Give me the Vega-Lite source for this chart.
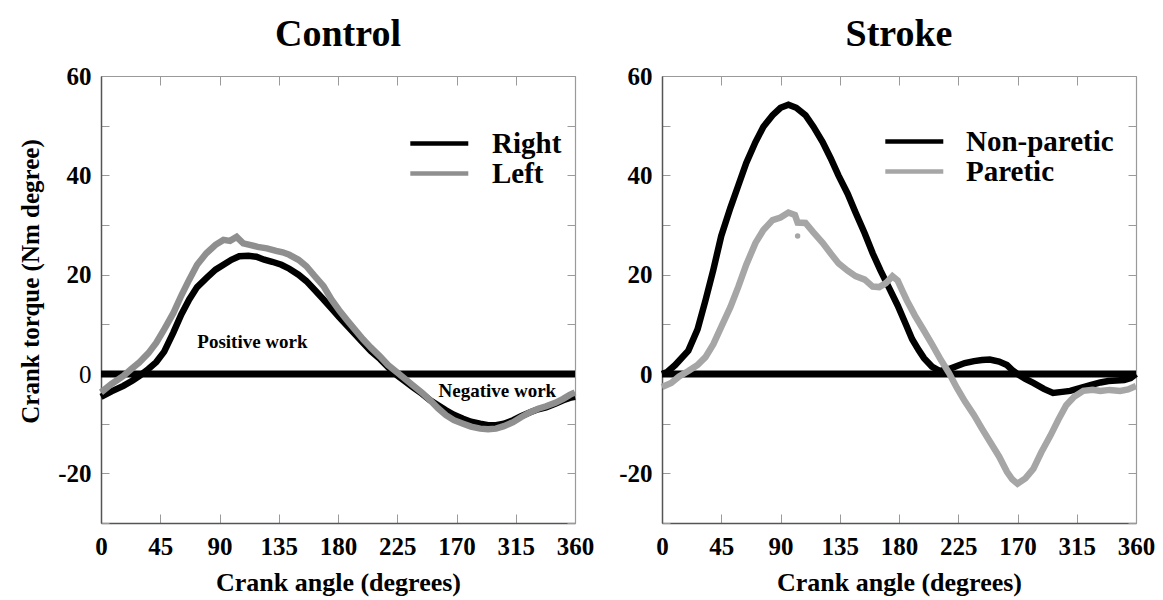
{
  "$schema": "https://vega.github.io/schema/vega-lite/v6.json",
  "background": "white",
  "padding": {"left": 18, "top": 16, "right": 10, "bottom": 5},
  "spacing": 24,
  "config": {
    "font": "Liberation Serif",
    "view": {"stroke": null},
    "axis": {"grid": false, "labelFont": "Liberation Serif", "titleFont": "Liberation Serif", "labelColor": "black", "titleColor": "black"},
    "title": {"font": "Liberation Serif", "fontSize": 38, "fontWeight": "bold", "color": "black", "offset": 10, "anchor": "middle"}
  },
  "resolve": {"scale": {"color": "independent"}, "legend": {"color": "independent"}},
  "datasets": {
    "curves": [
      {"panel":"Control","series":"Right","angle":0,"torque":-4.6},
      {"panel":"Control","series":"Right","angle":8,"torque":-3.5},
      {"panel":"Control","series":"Right","angle":17,"torque":-2.4},
      {"panel":"Control","series":"Right","angle":24,"torque":-1.3},
      {"panel":"Control","series":"Right","angle":29,"torque":-0.4},
      {"panel":"Control","series":"Right","angle":36,"torque":1.0},
      {"panel":"Control","series":"Right","angle":42,"torque":2.4},
      {"panel":"Control","series":"Right","angle":48,"torque":4.5},
      {"panel":"Control","series":"Right","angle":55,"torque":8.4},
      {"panel":"Control","series":"Right","angle":61,"torque":12},
      {"panel":"Control","series":"Right","angle":67,"torque":15},
      {"panel":"Control","series":"Right","angle":73,"torque":17.5},
      {"panel":"Control","series":"Right","angle":80,"torque":19.3},
      {"panel":"Control","series":"Right","angle":87,"torque":21},
      {"panel":"Control","series":"Right","angle":93,"torque":22},
      {"panel":"Control","series":"Right","angle":99,"torque":23},
      {"panel":"Control","series":"Right","angle":105,"torque":23.7},
      {"panel":"Control","series":"Right","angle":112,"torque":23.8},
      {"panel":"Control","series":"Right","angle":118,"torque":23.6},
      {"panel":"Control","series":"Right","angle":124,"torque":23},
      {"panel":"Control","series":"Right","angle":130,"torque":22.6},
      {"panel":"Control","series":"Right","angle":137,"torque":22},
      {"panel":"Control","series":"Right","angle":143,"torque":21.2},
      {"panel":"Control","series":"Right","angle":150,"torque":20},
      {"panel":"Control","series":"Right","angle":156,"torque":18.7},
      {"panel":"Control","series":"Right","angle":162,"torque":17},
      {"panel":"Control","series":"Right","angle":169,"torque":15},
      {"panel":"Control","series":"Right","angle":175,"torque":13.2},
      {"panel":"Control","series":"Right","angle":181,"torque":11.4},
      {"panel":"Control","series":"Right","angle":187,"torque":9.7},
      {"panel":"Control","series":"Right","angle":193,"torque":8},
      {"panel":"Control","series":"Right","angle":199,"torque":6.3},
      {"panel":"Control","series":"Right","angle":205,"torque":4.6},
      {"panel":"Control","series":"Right","angle":212,"torque":3},
      {"panel":"Control","series":"Right","angle":218,"torque":1.4},
      {"panel":"Control","series":"Right","angle":225,"torque":-0.3},
      {"panel":"Control","series":"Right","angle":231,"torque":-1.5},
      {"panel":"Control","series":"Right","angle":237,"torque":-2.7},
      {"panel":"Control","series":"Right","angle":244,"torque":-4},
      {"panel":"Control","series":"Right","angle":250,"torque":-5.3},
      {"panel":"Control","series":"Right","angle":256,"torque":-6.3},
      {"panel":"Control","series":"Right","angle":262,"torque":-7.3},
      {"panel":"Control","series":"Right","angle":268,"torque":-8.2},
      {"panel":"Control","series":"Right","angle":275,"torque":-9},
      {"panel":"Control","series":"Right","angle":281,"torque":-9.6},
      {"panel":"Control","series":"Right","angle":288,"torque":-10},
      {"panel":"Control","series":"Right","angle":294,"torque":-10.3},
      {"panel":"Control","series":"Right","angle":300,"torque":-10.3},
      {"panel":"Control","series":"Right","angle":306,"torque":-10},
      {"panel":"Control","series":"Right","angle":313,"torque":-9.3},
      {"panel":"Control","series":"Right","angle":319,"torque":-8.5},
      {"panel":"Control","series":"Right","angle":326,"torque":-7.7},
      {"panel":"Control","series":"Right","angle":332,"torque":-7.1},
      {"panel":"Control","series":"Right","angle":338,"torque":-6.7},
      {"panel":"Control","series":"Right","angle":345,"torque":-6},
      {"panel":"Control","series":"Right","angle":351,"torque":-5.3},
      {"panel":"Control","series":"Right","angle":356,"torque":-4.8},
      {"panel":"Control","series":"Right","angle":360,"torque":-4.6},
      {"panel":"Control","series":"Left","angle":0,"torque":-3.7},
      {"panel":"Control","series":"Left","angle":8,"torque":-2.0},
      {"panel":"Control","series":"Left","angle":17,"torque":-0.4},
      {"panel":"Control","series":"Left","angle":23,"torque":1.0},
      {"panel":"Control","series":"Left","angle":29,"torque":2.3},
      {"panel":"Control","series":"Left","angle":36,"torque":4.2},
      {"panel":"Control","series":"Left","angle":42,"torque":6.3},
      {"panel":"Control","series":"Left","angle":48,"torque":9},
      {"panel":"Control","series":"Left","angle":55,"torque":12.3},
      {"panel":"Control","series":"Left","angle":61,"torque":15.8},
      {"panel":"Control","series":"Left","angle":67,"torque":19},
      {"panel":"Control","series":"Left","angle":73,"torque":22},
      {"panel":"Control","series":"Left","angle":80,"torque":24.3},
      {"panel":"Control","series":"Left","angle":87,"torque":26},
      {"panel":"Control","series":"Left","angle":93,"torque":27},
      {"panel":"Control","series":"Left","angle":98,"torque":26.8},
      {"panel":"Control","series":"Left","angle":103,"torque":27.6},
      {"panel":"Control","series":"Left","angle":108,"torque":26.3},
      {"panel":"Control","series":"Left","angle":113,"torque":26},
      {"panel":"Control","series":"Left","angle":119,"torque":25.6},
      {"panel":"Control","series":"Left","angle":126,"torque":25.3},
      {"panel":"Control","series":"Left","angle":133,"torque":24.8},
      {"panel":"Control","series":"Left","angle":138,"torque":24.5},
      {"panel":"Control","series":"Left","angle":143,"torque":24},
      {"panel":"Control","series":"Left","angle":150,"torque":23},
      {"panel":"Control","series":"Left","angle":156,"torque":21.7},
      {"panel":"Control","series":"Left","angle":162,"torque":19.8},
      {"panel":"Control","series":"Left","angle":169,"torque":17.7},
      {"panel":"Control","series":"Left","angle":175,"torque":15},
      {"panel":"Control","series":"Left","angle":181,"torque":12.8},
      {"panel":"Control","series":"Left","angle":187,"torque":10.8},
      {"panel":"Control","series":"Left","angle":193,"torque":8.9},
      {"panel":"Control","series":"Left","angle":199,"torque":7},
      {"panel":"Control","series":"Left","angle":205,"torque":5.3},
      {"panel":"Control","series":"Left","angle":212,"torque":3.5},
      {"panel":"Control","series":"Left","angle":218,"torque":1.8},
      {"panel":"Control","series":"Left","angle":225,"torque":0.3},
      {"panel":"Control","series":"Left","angle":231,"torque":-1.0},
      {"panel":"Control","series":"Left","angle":237,"torque":-2.3},
      {"panel":"Control","series":"Left","angle":244,"torque":-3.8},
      {"panel":"Control","series":"Left","angle":250,"torque":-5.3},
      {"panel":"Control","series":"Left","angle":256,"torque":-6.9},
      {"panel":"Control","series":"Left","angle":262,"torque":-8.3},
      {"panel":"Control","series":"Left","angle":268,"torque":-9.3},
      {"panel":"Control","series":"Left","angle":275,"torque":-10},
      {"panel":"Control","series":"Left","angle":281,"torque":-10.6},
      {"panel":"Control","series":"Left","angle":288,"torque":-11},
      {"panel":"Control","series":"Left","angle":294,"torque":-11.1},
      {"panel":"Control","series":"Left","angle":300,"torque":-11},
      {"panel":"Control","series":"Left","angle":306,"torque":-10.5},
      {"panel":"Control","series":"Left","angle":313,"torque":-9.7},
      {"panel":"Control","series":"Left","angle":319,"torque":-8.7},
      {"panel":"Control","series":"Left","angle":326,"torque":-7.7},
      {"panel":"Control","series":"Left","angle":332,"torque":-7},
      {"panel":"Control","series":"Left","angle":338,"torque":-6.5},
      {"panel":"Control","series":"Left","angle":345,"torque":-5.8},
      {"panel":"Control","series":"Left","angle":351,"torque":-5},
      {"panel":"Control","series":"Left","angle":356,"torque":-4.2},
      {"panel":"Control","series":"Left","angle":360,"torque":-3.7},
      {"panel":"Stroke","series":"Non-paretic","angle":0,"torque":0},
      {"panel":"Stroke","series":"Non-paretic","angle":4,"torque":0.4},
      {"panel":"Stroke","series":"Non-paretic","angle":10,"torque":1.8},
      {"panel":"Stroke","series":"Non-paretic","angle":20,"torque":4.7},
      {"panel":"Stroke","series":"Non-paretic","angle":27,"torque":9},
      {"panel":"Stroke","series":"Non-paretic","angle":33,"torque":14.8},
      {"panel":"Stroke","series":"Non-paretic","angle":39,"torque":21},
      {"panel":"Stroke","series":"Non-paretic","angle":45,"torque":27.8},
      {"panel":"Stroke","series":"Non-paretic","angle":52,"torque":33.5},
      {"panel":"Stroke","series":"Non-paretic","angle":58,"torque":38},
      {"panel":"Stroke","series":"Non-paretic","angle":64,"torque":42.5},
      {"panel":"Stroke","series":"Non-paretic","angle":71,"torque":46.7},
      {"panel":"Stroke","series":"Non-paretic","angle":77,"torque":49.8},
      {"panel":"Stroke","series":"Non-paretic","angle":84,"torque":52.1},
      {"panel":"Stroke","series":"Non-paretic","angle":90,"torque":53.6},
      {"panel":"Stroke","series":"Non-paretic","angle":96,"torque":54.2},
      {"panel":"Stroke","series":"Non-paretic","angle":102,"torque":53.6},
      {"panel":"Stroke","series":"Non-paretic","angle":109,"torque":52.1},
      {"panel":"Stroke","series":"Non-paretic","angle":115,"torque":49.8},
      {"panel":"Stroke","series":"Non-paretic","angle":122,"torque":46.7},
      {"panel":"Stroke","series":"Non-paretic","angle":128,"torque":43.5},
      {"panel":"Stroke","series":"Non-paretic","angle":134,"torque":40},
      {"panel":"Stroke","series":"Non-paretic","angle":141,"torque":36.3},
      {"panel":"Stroke","series":"Non-paretic","angle":147,"torque":32.5},
      {"panel":"Stroke","series":"Non-paretic","angle":154,"torque":28.3},
      {"panel":"Stroke","series":"Non-paretic","angle":160,"torque":24.3},
      {"panel":"Stroke","series":"Non-paretic","angle":166,"torque":20.8},
      {"panel":"Stroke","series":"Non-paretic","angle":172,"torque":17.6},
      {"panel":"Stroke","series":"Non-paretic","angle":179,"torque":13.8},
      {"panel":"Stroke","series":"Non-paretic","angle":185,"torque":10.1},
      {"panel":"Stroke","series":"Non-paretic","angle":190,"torque":7},
      {"panel":"Stroke","series":"Non-paretic","angle":195,"torque":4.8},
      {"panel":"Stroke","series":"Non-paretic","angle":199,"torque":3.2},
      {"panel":"Stroke","series":"Non-paretic","angle":205,"torque":1.5},
      {"panel":"Stroke","series":"Non-paretic","angle":211,"torque":0.6},
      {"panel":"Stroke","series":"Non-paretic","angle":218,"torque":1.0},
      {"panel":"Stroke","series":"Non-paretic","angle":224,"torque":1.6},
      {"panel":"Stroke","series":"Non-paretic","angle":230,"torque":2.2},
      {"panel":"Stroke","series":"Non-paretic","angle":237,"torque":2.6},
      {"panel":"Stroke","series":"Non-paretic","angle":243,"torque":2.8},
      {"panel":"Stroke","series":"Non-paretic","angle":249,"torque":2.9},
      {"panel":"Stroke","series":"Non-paretic","angle":256,"torque":2.5},
      {"panel":"Stroke","series":"Non-paretic","angle":262,"torque":1.8},
      {"panel":"Stroke","series":"Non-paretic","angle":266,"torque":0.8},
      {"panel":"Stroke","series":"Non-paretic","angle":270,"torque":0},
      {"panel":"Stroke","series":"Non-paretic","angle":276,"torque":-1},
      {"panel":"Stroke","series":"Non-paretic","angle":282,"torque":-1.8},
      {"panel":"Stroke","series":"Non-paretic","angle":290,"torque":-3},
      {"panel":"Stroke","series":"Non-paretic","angle":297,"torque":-3.8},
      {"panel":"Stroke","series":"Non-paretic","angle":304,"torque":-3.6},
      {"panel":"Stroke","series":"Non-paretic","angle":310,"torque":-3.4},
      {"panel":"Stroke","series":"Non-paretic","angle":318,"torque":-2.8},
      {"panel":"Stroke","series":"Non-paretic","angle":326,"torque":-2.2},
      {"panel":"Stroke","series":"Non-paretic","angle":333,"torque":-1.7},
      {"panel":"Stroke","series":"Non-paretic","angle":339,"torque":-1.4},
      {"panel":"Stroke","series":"Non-paretic","angle":345,"torque":-1.3},
      {"panel":"Stroke","series":"Non-paretic","angle":351,"torque":-1.2},
      {"panel":"Stroke","series":"Non-paretic","angle":356,"torque":-0.8},
      {"panel":"Stroke","series":"Non-paretic","angle":360,"torque":0},
      {"panel":"Stroke","series":"Paretic","angle":0,"torque":-2.6},
      {"panel":"Stroke","series":"Paretic","angle":7,"torque":-1.8},
      {"panel":"Stroke","series":"Paretic","angle":13,"torque":-0.5},
      {"panel":"Stroke","series":"Paretic","angle":20,"torque":0.6},
      {"panel":"Stroke","series":"Paretic","angle":27,"torque":1.8},
      {"panel":"Stroke","series":"Paretic","angle":33,"torque":3.4},
      {"panel":"Stroke","series":"Paretic","angle":39,"torque":6},
      {"panel":"Stroke","series":"Paretic","angle":45,"torque":9.5},
      {"panel":"Stroke","series":"Paretic","angle":52,"torque":13.5},
      {"panel":"Stroke","series":"Paretic","angle":58,"torque":17.6},
      {"panel":"Stroke","series":"Paretic","angle":64,"torque":22},
      {"panel":"Stroke","series":"Paretic","angle":71,"torque":26.4},
      {"panel":"Stroke","series":"Paretic","angle":77,"torque":29},
      {"panel":"Stroke","series":"Paretic","angle":84,"torque":31},
      {"panel":"Stroke","series":"Paretic","angle":90,"torque":31.5},
      {"panel":"Stroke","series":"Paretic","angle":96,"torque":32.5},
      {"panel":"Stroke","series":"Paretic","angle":101,"torque":32},
      {"panel":"Stroke","series":"Paretic","angle":103,"torque":30.5},
      {"panel":"Stroke","series":"Paretic","angle":109,"torque":30.4},
      {"panel":"Stroke","series":"Paretic","angle":115,"torque":28.5},
      {"panel":"Stroke","series":"Paretic","angle":122,"torque":26.4},
      {"panel":"Stroke","series":"Paretic","angle":128,"torque":24.3},
      {"panel":"Stroke","series":"Paretic","angle":134,"torque":22.3},
      {"panel":"Stroke","series":"Paretic","angle":141,"torque":20.8},
      {"panel":"Stroke","series":"Paretic","angle":147,"torque":19.7},
      {"panel":"Stroke","series":"Paretic","angle":154,"torque":19},
      {"panel":"Stroke","series":"Paretic","angle":160,"torque":17.6},
      {"panel":"Stroke","series":"Paretic","angle":165,"torque":17.5},
      {"panel":"Stroke","series":"Paretic","angle":170,"torque":18.3},
      {"panel":"Stroke","series":"Paretic","angle":175,"torque":19.7},
      {"panel":"Stroke","series":"Paretic","angle":179,"torque":18.8},
      {"panel":"Stroke","series":"Paretic","angle":183,"torque":16.5},
      {"panel":"Stroke","series":"Paretic","angle":186,"torque":14.8},
      {"panel":"Stroke","series":"Paretic","angle":192,"torque":11.8},
      {"panel":"Stroke","series":"Paretic","angle":199,"torque":8.7},
      {"panel":"Stroke","series":"Paretic","angle":205,"torque":6},
      {"panel":"Stroke","series":"Paretic","angle":211,"torque":3.2},
      {"panel":"Stroke","series":"Paretic","angle":218,"torque":0.2},
      {"panel":"Stroke","series":"Paretic","angle":224,"torque":-2.8},
      {"panel":"Stroke","series":"Paretic","angle":230,"torque":-5.5},
      {"panel":"Stroke","series":"Paretic","angle":237,"torque":-8.3},
      {"panel":"Stroke","series":"Paretic","angle":243,"torque":-11},
      {"panel":"Stroke","series":"Paretic","angle":249,"torque":-13.6},
      {"panel":"Stroke","series":"Paretic","angle":256,"torque":-16.6},
      {"panel":"Stroke","series":"Paretic","angle":262,"torque":-19.7},
      {"panel":"Stroke","series":"Paretic","angle":266,"torque":-21.2},
      {"panel":"Stroke","series":"Paretic","angle":270,"torque":-22.1},
      {"panel":"Stroke","series":"Paretic","angle":276,"torque":-21},
      {"panel":"Stroke","series":"Paretic","angle":282,"torque":-19.1},
      {"panel":"Stroke","series":"Paretic","angle":288,"torque":-15.8},
      {"panel":"Stroke","series":"Paretic","angle":295,"torque":-12.4},
      {"panel":"Stroke","series":"Paretic","angle":301,"torque":-9.2},
      {"panel":"Stroke","series":"Paretic","angle":307,"torque":-6.3},
      {"panel":"Stroke","series":"Paretic","angle":313,"torque":-4.6},
      {"panel":"Stroke","series":"Paretic","angle":320,"torque":-3.4},
      {"panel":"Stroke","series":"Paretic","angle":327,"torque":-3.2},
      {"panel":"Stroke","series":"Paretic","angle":333,"torque":-3.4},
      {"panel":"Stroke","series":"Paretic","angle":340,"torque":-3.2},
      {"panel":"Stroke","series":"Paretic","angle":348,"torque":-3.4},
      {"panel":"Stroke","series":"Paretic","angle":354,"torque":-3.1},
      {"panel":"Stroke","series":"Paretic","angle":360,"torque":-2.4}
    ]
  },
  "hconcat": [
    {
      "width": 474,
      "height": 447,
      "title": {"text": "Control"},
      "resolve": {"axis": {"x": "independent", "y": "independent"}},
      "layer": [
        {
          "data": {"values": [{"level": 0}]},
          "mark": {"type": "rule", "strokeWidth": 7, "color": "black"},
          "encoding": {
            "y": {"field": "level", "type": "quantitative", "scale": {"domain": [-30, 60], "nice": false, "zero": false},
              "axis": {"orient": "left", "values": [-30,-20,-10,0,10,20,30,40,50,60], "labelExpr": "datum.value % 20 == 0 ? replace(datum.label, '\u2212', '-') : ''",
                "tickSize": -8, "tickColor": "#9a9a9a", "domainColor": "#555555", "domainWidth": 1.5, "labelFontSize": 25,
                "labelFontWeight": {"condition": {"test": "datum.value == 0", "value": "normal"}, "value": "bold"},
                "labelPadding": 18, "labelOverlap": false, "title": "Crank torque (Nm degree)", "titleFontSize": 25, "titleFontWeight": "bold", "titlePadding": 14, "titleY": 205}}
          }
        },
        {
          "data": {"name": "curves"},
          "transform": [{"filter": "datum.panel == 'Control'"}],
          "mark": {"type": "line", "strokeWidth": 6.5},
          "encoding": {
            "x": {"field": "angle", "type": "quantitative", "scale": {"domain": [0, 360], "nice": false, "zero": false},
              "axis": {"orient": "bottom", "values": [0,45,90,135,180,225,270,315,360], "labelExpr": "datum.value == 270 ? '170' : datum.label",
                "tickSize": -9, "tickColor": "#9a9a9a", "domainColor": "#555555", "domainWidth": 1.5, "labelFontSize": 25, "labelFontWeight": "bold",
                "labelPadding": 20, "labelFlush": false, "labelOverlap": false, "title": "Crank angle (degrees)", "titleFontSize": 26, "titleFontWeight": "bold", "titlePadding": 10}},
            "y": {"field": "torque", "type": "quantitative", "scale": {"domain": [-30, 60], "nice": false, "zero": false}, "axis": null},
            "color": {"field": "series", "type": "nominal", "sort": ["Right", "Left"],
              "scale": {"domain": ["Right", "Left"], "range": ["#000000", "#8f8f8f"]},
              "legend": {"orient": "none", "legendX": 304, "legendY": 53, "title": null, "symbolType": "M-1.3,0H6.9", "symbolSize": 200, "symbolStrokeWidth": 4.5,
                "labelFontSize": 29, "labelFontWeight": "bold", "labelFont": "Liberation Serif", "labelColor": "black", "labelOffset": 58, "rowPadding": -6}},
            "order": {"field": "angle", "type": "quantitative"}
          }
        },
        {
          "data": {"values": [
            {"label": "Positive work", "angle": 115, "torque": 6.4},
            {"label": "Negative work", "angle": 301, "torque": -3.4}
          ]},
          "mark": {"type": "text", "fontSize": 19, "fontWeight": "bold", "font": "Liberation Serif", "color": "black"},
          "encoding": {
            "x": {"field": "angle", "type": "quantitative", "scale": {"domain": [0, 360], "nice": false, "zero": false},
              "axis": {"orient": "top", "values": [0,45,90,135,180,225,270,315,360], "labels": false, "tickSize": -9, "tickColor": "#9a9a9a", "domainColor": "#9a9a9a", "domainWidth": 1.2, "title": null}},
            "y": {"field": "torque", "type": "quantitative", "scale": {"domain": [-30, 60], "nice": false, "zero": false},
              "axis": {"orient": "right", "values": [-30,-20,-10,0,10,20,30,40,50,60], "labels": false, "tickSize": -8, "tickColor": "#9a9a9a", "domainColor": "#9a9a9a", "domainWidth": 1.2, "title": null}},
            "text": {"field": "label"}
          }
        }
      ]
    },
    {
      "width": 474,
      "height": 447,
      "title": {"text": "Stroke"},
      "resolve": {"axis": {"x": "independent", "y": "independent"}},
      "layer": [
        {
          "data": {"values": [{"level": 0}]},
          "mark": {"type": "rule", "strokeWidth": 7, "color": "black"},
          "encoding": {
            "y": {"field": "level", "type": "quantitative", "scale": {"domain": [-30, 60], "nice": false, "zero": false},
              "axis": {"orient": "left", "values": [-30,-20,-10,0,10,20,30,40,50,60], "labelExpr": "datum.value % 20 == 0 ? replace(datum.label, '\u2212', '-') : ''",
                "tickSize": -8, "tickColor": "#9a9a9a", "domainColor": "#555555", "domainWidth": 1.5, "labelFontSize": 25, "labelFontWeight": "bold",
                "labelPadding": 18, "labelOverlap": false, "title": null}}
          }
        },
        {
          "data": {"name": "curves"},
          "transform": [{"filter": "datum.panel == 'Stroke'"}],
          "mark": {"type": "line", "strokeWidth": 6.5},
          "encoding": {
            "x": {"field": "angle", "type": "quantitative", "scale": {"domain": [0, 360], "nice": false, "zero": false},
              "axis": {"orient": "bottom", "values": [0,45,90,135,180,225,270,315,360], "labelExpr": "datum.value == 270 ? '170' : datum.label",
                "tickSize": -9, "tickColor": "#9a9a9a", "domainColor": "#555555", "domainWidth": 1.5, "labelFontSize": 25, "labelFontWeight": "bold",
                "labelPadding": 20, "labelFlush": false, "labelOverlap": false, "title": "Crank angle (degrees)", "titleFontSize": 26, "titleFontWeight": "bold", "titlePadding": 10}},
            "y": {"field": "torque", "type": "quantitative", "scale": {"domain": [-30, 60], "nice": false, "zero": false}, "axis": null},
            "color": {"field": "series", "type": "nominal", "sort": ["Non-paretic", "Paretic"],
              "scale": {"domain": ["Non-paretic", "Paretic"], "range": ["#000000", "#a6a6a6"]},
              "legend": {"orient": "none", "legendX": 218, "legendY": 51, "title": null, "symbolType": "M-1.3,0H6.9", "symbolSize": 200, "symbolStrokeWidth": 4.5,
                "labelFontSize": 29, "labelFontWeight": "bold", "labelFont": "Liberation Serif", "labelColor": "black", "labelOffset": 57, "rowPadding": -6}},
            "order": {"field": "angle", "type": "quantitative"}
          }
        },
        {
          "data": {"values": [
            {"angle": 103, "torque": 27.8}
          ]},
          "mark": {"type": "point", "filled": true, "size": 30, "color": "#a6a6a6", "opacity": 1},
          "encoding": {
            "x": {"field": "angle", "type": "quantitative", "scale": {"domain": [0, 360], "nice": false, "zero": false},
              "axis": {"orient": "top", "values": [0,45,90,135,180,225,270,315,360], "labels": false, "tickSize": -9, "tickColor": "#9a9a9a", "domainColor": "#9a9a9a", "domainWidth": 1.2, "title": null}},
            "y": {"field": "torque", "type": "quantitative", "scale": {"domain": [-30, 60], "nice": false, "zero": false},
              "axis": {"orient": "right", "values": [-30,-20,-10,0,10,20,30,40,50,60], "labels": false, "tickSize": -8, "tickColor": "#9a9a9a", "domainColor": "#9a9a9a", "domainWidth": 1.2, "title": null}}
          }
        }
      ]
    }
  ]
}
